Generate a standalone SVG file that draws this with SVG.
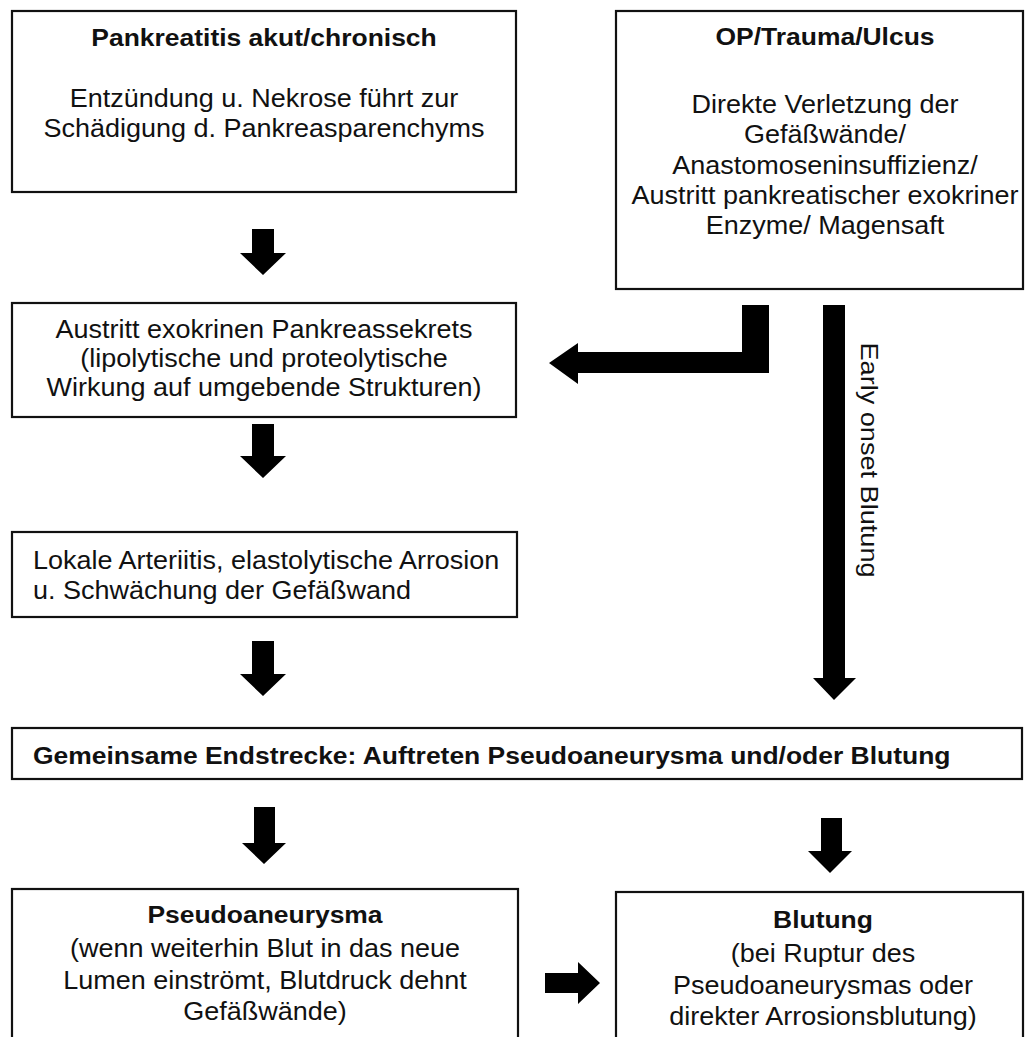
<svg xmlns="http://www.w3.org/2000/svg" width="1027" height="1037" viewBox="0 0 1027 1037">
<style>
.box{fill:#fff;stroke:#111;stroke-width:2.2}
text{font-family:"Liberation Sans",Arial,sans-serif;fill:#111}
.t{font-size:25px}
.b{font-size:24.5px;font-weight:bold}
.c{text-anchor:middle}
.arr{fill:#000;stroke:none}
</style>
<rect width="1027" height="1037" fill="#fff"/>

<g id="node-pankreatitis">
<rect class="box" x="12" y="11" width="504" height="181"/>
<g transform="translate(264,0) scale(1.08,1)">
<text class="b c" x="0" y="46">Pankreatitis akut/chronisch</text>
<text class="t c" x="0" y="107">Entzündung u. Nekrose führt zur</text>
<text class="t c" x="0" y="137">Schädigung d. Pankreasparenchyms</text>
</g>
</g>

<g id="node-op">
<rect class="box" x="616" y="11" width="407" height="278"/>
<g transform="translate(825,0) scale(1.08,1)">
<text class="b c" x="0" y="45">OP/Trauma/Ulcus</text>
<text class="t c" x="0" y="113">Direkte Verletzung der</text>
<text class="t c" x="0" y="143">Gefäßwände/</text>
<text class="t c" x="0" y="174">Anastomoseninsuffizienz/</text>
<text class="t c" x="0" y="204">Austritt pankreatischer exokriner</text>
<text class="t c" x="0" y="234">Enzyme/ Magensaft</text>
</g>
</g>

<g id="node-austritt">
<rect class="box" x="12" y="303" width="504" height="114"/>
<g transform="translate(264,0) scale(1.08,1)">
<text class="t c" x="0" y="338">Austritt exokrinen Pankreassekrets</text>
<text class="t c" x="0" y="367">(lipolytische und proteolytische</text>
<text class="t c" x="0" y="396">Wirkung auf umgebende Strukturen)</text>
</g>
</g>

<g id="node-arteriitis">
<rect class="box" x="12" y="532" width="505" height="85"/>
<g transform="translate(33,0) scale(1.08,1)">
<text class="t" x="0" y="569">Lokale Arteriitis, elastolytische Arrosion</text>
<text class="t" x="0" y="599">u. Schwächung der Gefäßwand</text>
</g>
</g>

<g id="node-gemeinsam">
<rect class="box" x="12" y="728" width="1010" height="51"/>
<g transform="translate(33,0) scale(1.08,1)">
<text class="b" x="0" y="764">Gemeinsame Endstrecke: Auftreten Pseudoaneurysma und/oder Blutung</text>
</g>
</g>

<g id="node-pseudo">
<rect class="box" x="12" y="889" width="506" height="170"/>
<g transform="translate(265,0) scale(1.08,1)">
<text class="b c" x="0" y="923">Pseudoaneurysma</text>
<text class="t c" x="0" y="957">(wenn weiterhin Blut in das neue</text>
<text class="t c" x="0" y="989">Lumen einströmt, Blutdruck dehnt</text>
<text class="t c" x="0" y="1020">Gefäßwände)</text>
</g>
</g>

<g id="node-blutung">
<rect class="box" x="616" y="892" width="407" height="170"/>
<g transform="translate(823,0) scale(1.08,1)">
<text class="b c" x="0" y="928">Blutung</text>
<text class="t c" x="0" y="962">(bei Ruptur des</text>
<text class="t c" x="0" y="994">Pseudoaneurysmas oder</text>
<text class="t c" x="0" y="1025">direkter Arrosionsblutung)</text>
</g>
</g>

<g id="connectors">
<polygon class="arr" points="252,229 274,229 274,253 286,253 263,275 240,253 252,253"/>
<polygon class="arr" points="252,424 274,424 274,456 286,456 263,478 240,456 252,456"/>
<polygon class="arr" points="252,641 274,641 274,674 286,674 263,696 240,674 252,674"/>
<polygon class="arr" points="254,807 275,807 275,843 286,843 264,864 242,843 254,843"/>
<polygon class="arr" points="821,818 842,818 842,851 852,851 830,873 808,851 821,851"/>
<polygon class="arr" points="823,305 845,305 845,678 856,678 834,700 813,678 823,678"/>
<polygon class="arr" points="742,305 769,305 769,373 578,373 578,384 549,363 578,343 578,352 742,352"/>
<polygon class="arr" points="545,973 578,973 578,962 600,983 578,1004 578,993 545,993"/>
<text class="t c" transform="translate(861,460) rotate(90) scale(1.13,1)" x="0" y="0" style="font-size:24px">Early onset Blutung</text>
</g>
</svg>
